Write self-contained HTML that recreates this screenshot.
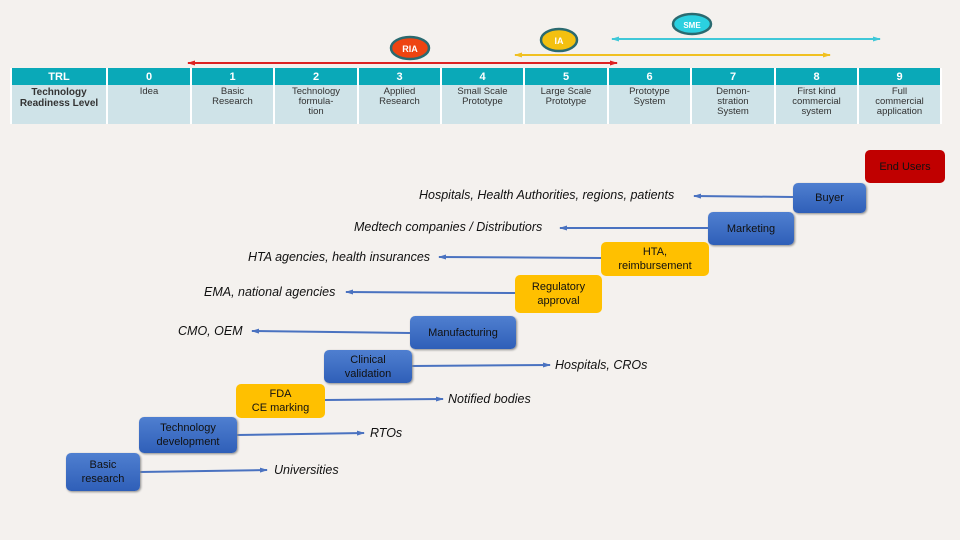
<!DOCTYPE html>
<html><head><style>
body{margin:0;width:960px;height:540px;background:#f4f1ee;position:relative;overflow:hidden;font-family:"Liberation Sans",sans-serif}
.b{position:absolute;border-radius:5px;display:flex;align-items:center;justify-content:center;text-align:center;font-size:11px;line-height:14px;color:#111;box-sizing:border-box}
.bl{background:linear-gradient(#4f7fd0,#2f5fb8);box-shadow:1px 1px 2px #888}
.y{background:#ffc000}
.t{position:absolute;font-style:italic;font-size:12.5px;color:#111;white-space:nowrap}
table{position:absolute;left:10px;top:68px;width:930px;border-collapse:collapse;table-layout:fixed;font-size:9.5px;color:#333}
td{border-left:2px solid #fff;border-right:2px solid #fff;text-align:center;padding:0;overflow:hidden}
tr.h td{background:#0aa9b8;color:#fff;font-weight:bold;height:17px;font-size:11px}
tr.r td{background:#cfe3e8;height:37px;vertical-align:top;padding-top:2px;line-height:10px}
</style></head><body>
<svg width="960" height="540" style="position:absolute;left:0;top:0">
<defs>
<marker id="a" markerUnits="userSpaceOnUse" markerWidth="8" markerHeight="8" refX="7" refY="4" orient="auto"><path d="M0,1.5 L8,4 L0,6.5z" fill="#4a72c0"/></marker>
<marker id="r" markerUnits="userSpaceOnUse" markerWidth="8" markerHeight="8" refX="7" refY="4" orient="auto-start-reverse"><path d="M0,1.5 L8,4 L0,6.5z" fill="#d22"/></marker>
<marker id="yy" markerUnits="userSpaceOnUse" markerWidth="8" markerHeight="8" refX="7" refY="4" orient="auto-start-reverse"><path d="M0,1.5 L8,4 L0,6.5z" fill="#f0c020"/></marker>
<marker id="c" markerUnits="userSpaceOnUse" markerWidth="8" markerHeight="8" refX="7" refY="4" orient="auto-start-reverse"><path d="M0,1.5 L8,4 L0,6.5z" fill="#40c8d8"/></marker>
</defs>
<line x1="188" y1="63" x2="617" y2="63" stroke="#d22" stroke-width="2" marker-start="url(#r)" marker-end="url(#r)"/>
<line x1="515" y1="55" x2="830" y2="55" stroke="#f0c020" stroke-width="2" marker-start="url(#yy)" marker-end="url(#yy)"/>
<line x1="612" y1="39" x2="880" y2="39" stroke="#40c8d8" stroke-width="2" marker-start="url(#c)" marker-end="url(#c)"/>
<ellipse cx="410" cy="48" rx="19" ry="11" fill="#e41" stroke="#2a6a70" stroke-width="2.5"/>
<text x="410" y="52" font-size="9" fill="#fff" font-weight="bold" text-anchor="middle" font-family="Liberation Sans">RIA</text>
<ellipse cx="559" cy="40" rx="18" ry="11" fill="#f3c010" stroke="#2a6a70" stroke-width="2.5"/>
<text x="559" y="44" font-size="9" fill="#fff" font-weight="bold" text-anchor="middle" font-family="Liberation Sans">IA</text>
<ellipse cx="692" cy="24" rx="19" ry="10" fill="#2bd0e0" stroke="#2a6a70" stroke-width="2.5"/>
<text x="692" y="28" font-size="8" fill="#fff" font-weight="bold" text-anchor="middle" font-family="Liberation Sans">SME</text>
<g stroke="#4a72c0" stroke-width="2" fill="none">
<line x1="793" y1="197" x2="694" y2="196" marker-end="url(#a)"/>
<line x1="708" y1="228" x2="560" y2="228" marker-end="url(#a)"/>
<line x1="601" y1="258" x2="439" y2="257" marker-end="url(#a)"/>
<line x1="515" y1="293" x2="346" y2="292" marker-end="url(#a)"/>
<line x1="410" y1="333" x2="252" y2="331" marker-end="url(#a)"/>
<line x1="412" y1="366" x2="550" y2="365" marker-end="url(#a)"/>
<line x1="325" y1="400" x2="443" y2="399" marker-end="url(#a)"/>
<line x1="237" y1="435" x2="364" y2="433" marker-end="url(#a)"/>
<line x1="140" y1="472" x2="267" y2="470" marker-end="url(#a)"/>
</g>
</svg>
<table>
<colgroup><col style="width:96px"><col style="width:84px"><col style="width:83px"><col style="width:84px"><col style="width:83px"><col style="width:83px"><col style="width:84px"><col style="width:83px"><col style="width:84px"><col style="width:83px"><col style="width:83px"></colgroup>
<tr class="h"><td>TRL</td><td>0</td><td>1</td><td>2</td><td>3</td><td>4</td><td>5</td><td>6</td><td>7</td><td>8</td><td>9</td></tr>
<tr class="r"><td style="font-weight:bold;font-size:10px;line-height:11px">Technology Readiness Level</td><td>Idea</td><td>Basic<br>Research</td><td>Technology<br>formula-<br>tion</td><td>Applied<br>Research</td><td>Small Scale<br>Prototype</td><td>Large Scale<br>Prototype</td><td>Prototype<br>System</td><td>Demon-<br>stration<br>System</td><td>First kind<br>commercial<br>system</td><td>Full<br>commercial<br>application</td></tr></table>
<div class="b" style="left:865px;top:150px;width:80px;height:33px;background:#c00000">End Users</div>
<div class="b bl" style="left:793px;top:183px;width:73px;height:30px">Buyer</div>
<div class="b bl" style="left:708px;top:212px;width:86px;height:33px">Marketing</div>
<div class="b y" style="left:601px;top:242px;width:108px;height:34px">HTA,<br>reimbursement</div>
<div class="b y" style="left:515px;top:275px;width:87px;height:38px">Regulatory<br>approval</div>
<div class="b bl" style="left:410px;top:316px;width:106px;height:33px">Manufacturing</div>
<div class="b bl" style="left:324px;top:350px;width:88px;height:33px">Clinical<br>validation</div>
<div class="b y" style="left:236px;top:384px;width:89px;height:34px">FDA<br>CE marking</div>
<div class="b bl" style="left:139px;top:417px;width:98px;height:36px">Technology<br>development</div>
<div class="b bl" style="left:66px;top:453px;width:74px;height:38px">Basic<br>research</div>
<div class="t" style="left:419px;top:188px">Hospitals, Health Authorities, regions, patients</div>
<div class="t" style="left:354px;top:220px">Medtech companies / Distributiors</div>
<div class="t" style="left:248px;top:250px">HTA agencies, health insurances</div>
<div class="t" style="left:204px;top:285px">EMA, national agencies</div>
<div class="t" style="left:178px;top:324px">CMO, OEM</div>
<div class="t" style="left:555px;top:358px">Hospitals, CROs</div>
<div class="t" style="left:448px;top:392px">Notified bodies</div>
<div class="t" style="left:370px;top:426px">RTOs</div>
<div class="t" style="left:274px;top:463px">Universities</div>
</body></html>
